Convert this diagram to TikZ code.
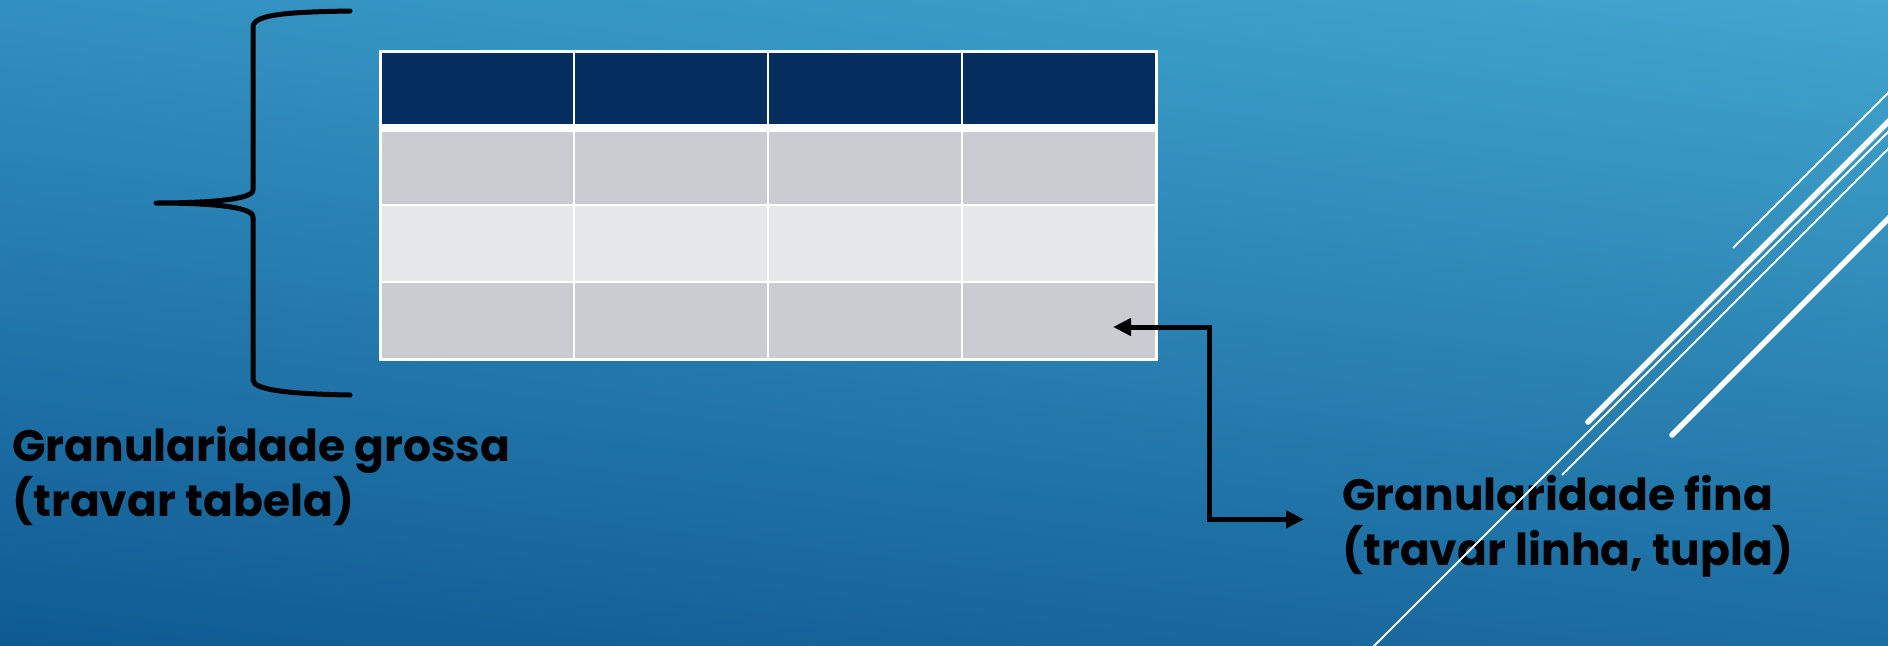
\documentclass[tikz,border=0pt]{standalone}
\usepackage{fontspec}
\newfontfamily\slidefont{Poppins}
\usetikzlibrary{positioning, arrows.meta, calc, shadings}
\definecolor{bgtl}{HTML}{3290C0}
\definecolor{bgtr}{HTML}{42A6CE}
\definecolor{bgbl}{HTML}{0F5A92}
\definecolor{bgbr}{HTML}{1C6DA2}
\definecolor{headblue}{HTML}{052D5E}
\definecolor{cellgray}{HTML}{CBCCD1}
\definecolor{cellpale}{HTML}{E6E7E9}
\tikzset{
	>={Triangle[length=9pt, width=8.5pt]},
	node distance=0pt,
	cell/.style={draw=white, line width=1pt, outer sep=0pt, inner sep=0pt, minimum width=97pt, minimum height=38.5pt},
	headcell/.style={cell, fill=headblue},
	graycell/.style={cell, fill=cellgray},
	palecell/.style={cell, fill=cellpale},
	granul/.style={font=\slidefont\bfseries\fontsize{22}{27.5}\selectfont, align=left, inner sep=0pt, anchor=north west},
	curly/.style={line width=2.5pt, line cap=round, line join=round},
	thinstripe/.style={white, line width=1pt},
	thickstripe/.style={white, line width=2.8pt, line cap=round},
}

\begin{document}
\begin{tikzpicture}[x=0.5pt, y=0.5pt]
	\clip (0,0) rectangle (1888,645);
	\shade[upper left=bgtl, upper right=bgtr, lower left=bgbl, lower right=bgbr] (0,0) rectangle (1888,645);

	\node[headcell] (H1) at (477,555.5) {};
	\node[headcell, right=of H1] (H2) {};
	\node[headcell, right=of H2] (H3) {};
	\node[headcell, right=of H3] (H4) {};
	\node[graycell, below=of H1] (R1C1) {};
	\node[graycell, right=of R1C1] (R1C2) {};
	\node[graycell, right=of R1C2] (R1C3) {};
	\node[graycell, right=of R1C3] (R1C4) {};
	\node[palecell, below=of R1C1] (R2C1) {};
	\node[palecell, right=of R2C1] (R2C2) {};
	\node[palecell, right=of R2C2] (R2C3) {};
	\node[palecell, right=of R2C3] (R2C4) {};
	\node[graycell, below=of R2C1] (R3C1) {};
	\node[graycell, right=of R3C1] (R3C2) {};
	\node[graycell, right=of R3C2] (R3C3) {};
	\node[graycell, right=of R3C3] (R3C4) {};
	\draw[white, line width=4pt] (H1.south west) -- (H4.south east);
	\draw[white, line width=1.5pt] (H1.north west) rectangle (R3C4.south east);

	\draw[curly] (350,634) .. controls (290,633) and (253,631) .. (253,618) -- (253,455)
		.. controls (253,445) and (205,442) .. (156,442)
		.. controls (205,442) and (253,439) .. (253,428) -- (253,265)
		.. controls (253,255) and (290,251) .. (350,250);

	\node[granul] (COARSE) at (12,219) {Granularidade grossa\\(travar tabela)};
	\node[granul] (FINE) at (1342,170) {Granularidade fina\\(travar linha, tupla)};

	\coordinate (LOCK) at (1113,318);
	\draw[<->, line width=2.5pt, shorten >=19pt] (LOCK) -- ++(96,0) |- ([yshift=3.5pt]FINE.west);

	\draw[thinstripe] (1733,397) -- (1900,564);
	\draw[thickstripe] (1588,223) -- (1900,535);
	\draw[thinstripe] (1370,-5) -- (1900,525);
	\draw[thinstripe] (1562,170) -- (1900,508);
	\draw[thickstripe] (1672,210) -- (1900,438);
\end{tikzpicture}
\end{document}
